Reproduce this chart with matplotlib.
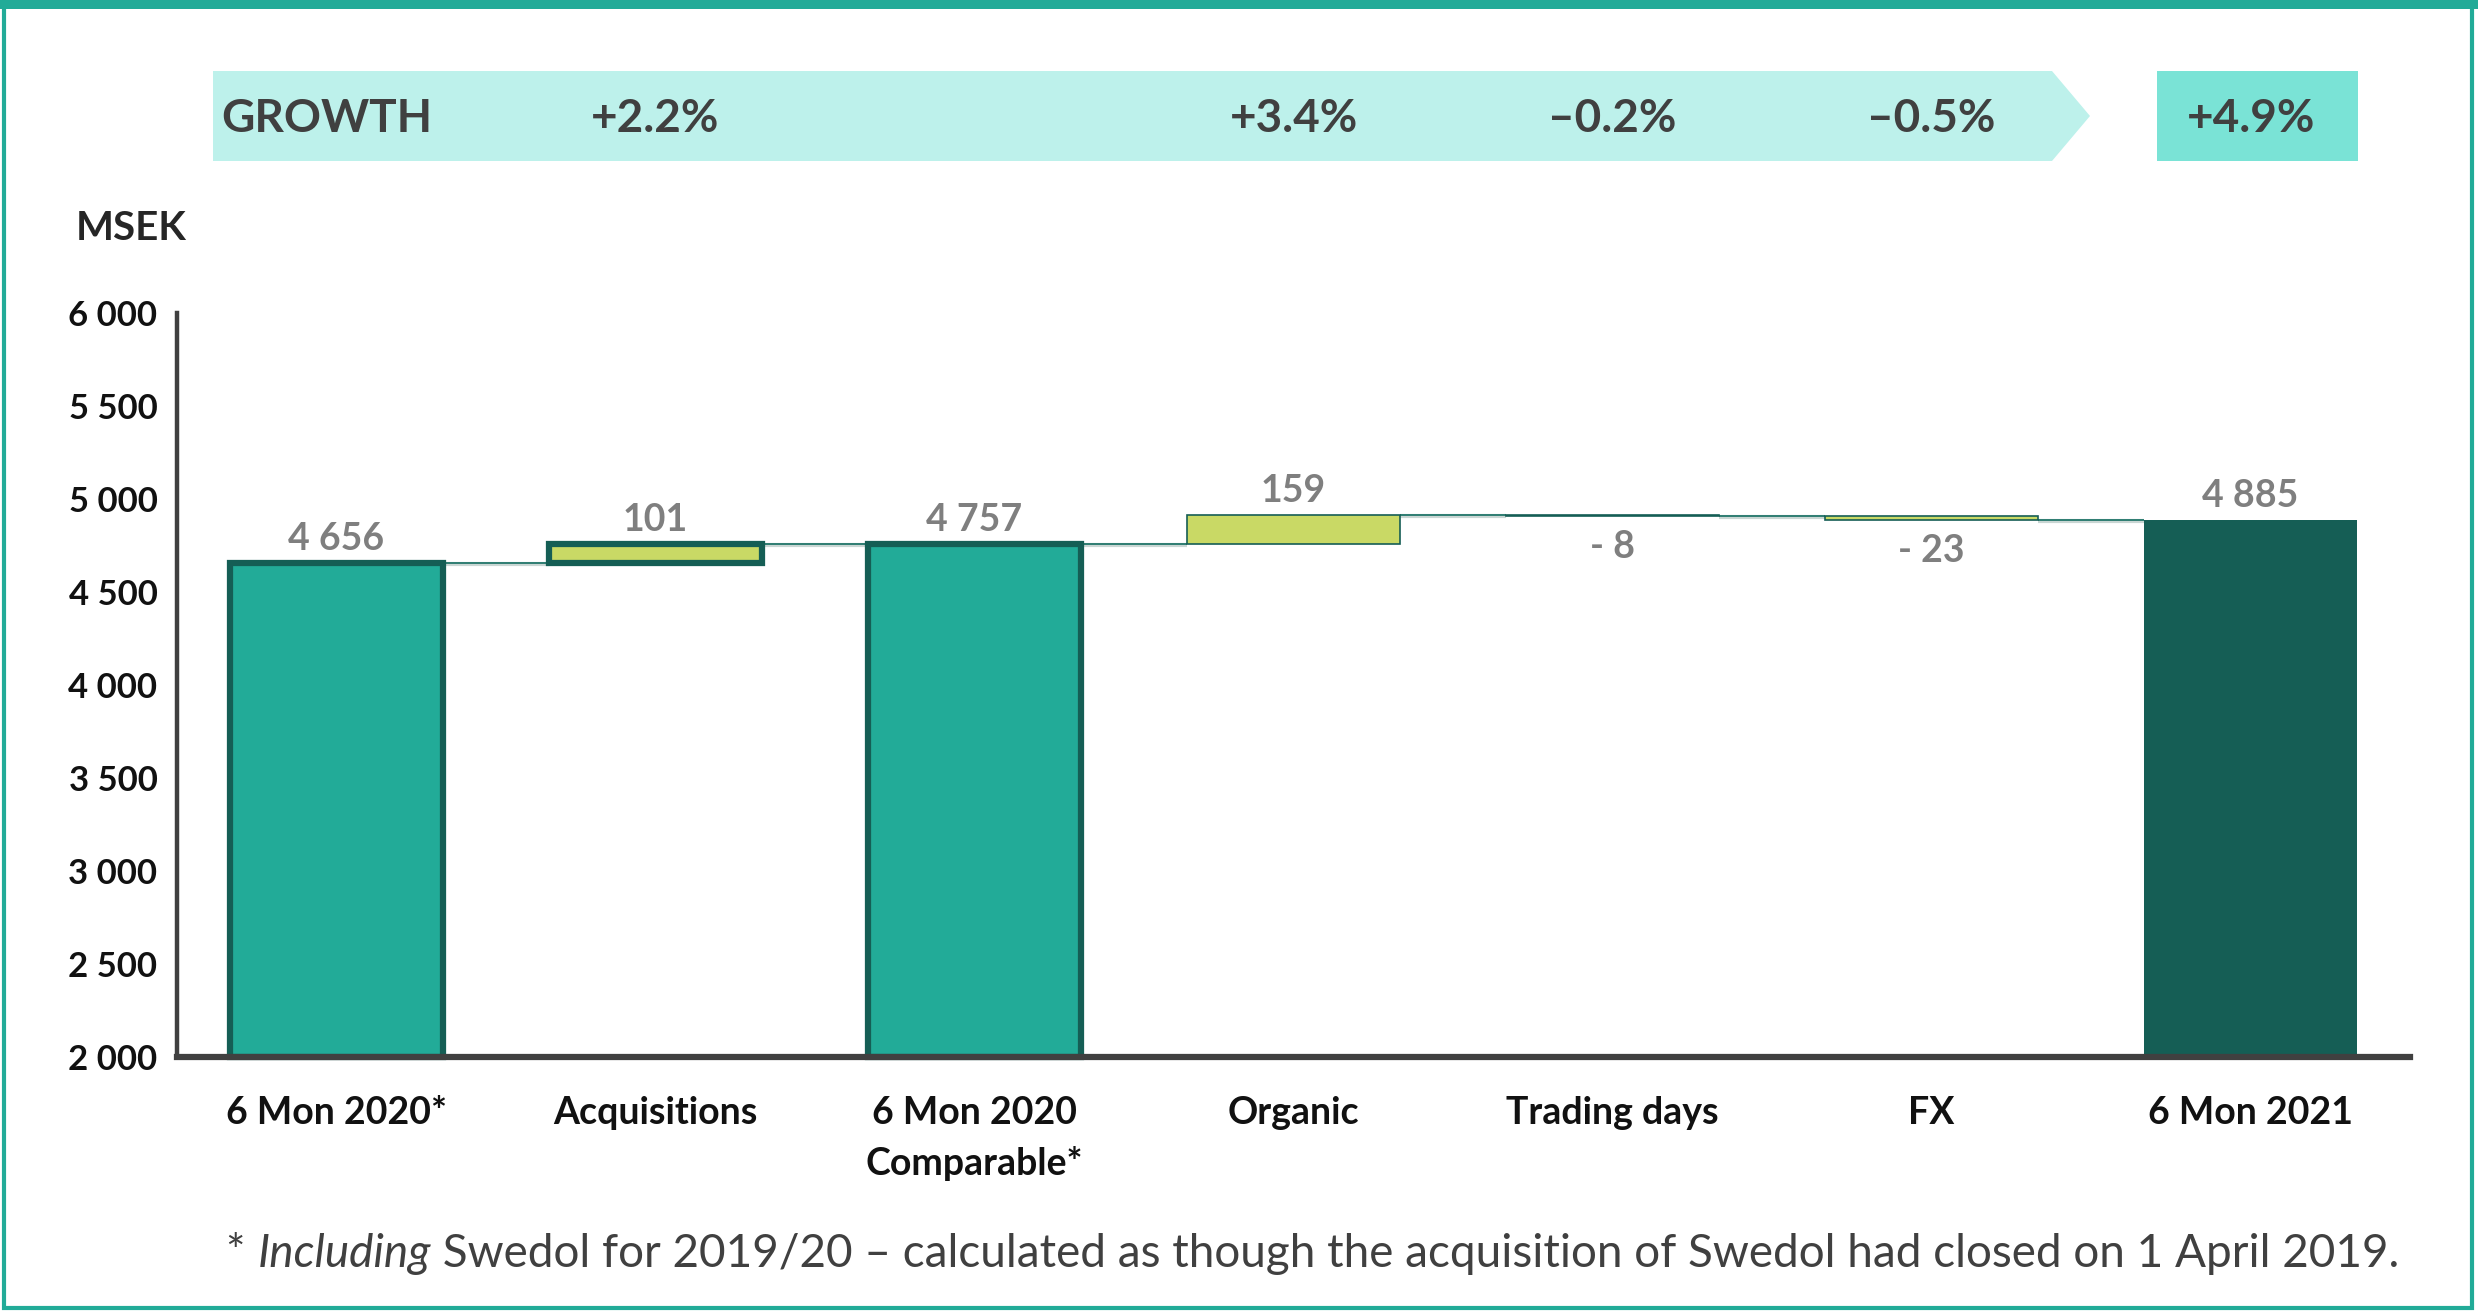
import matplotlib
matplotlib.use("Agg")
import matplotlib.pyplot as plt
from matplotlib.patches import Polygon, Rectangle
from matplotlib.transforms import blended_transform_factory
import matplotlib.ticker as mticker

# ---------------- data ----------------
categories = ["6 Mon 2020*", "Acquisitions", "6 Mon 2020\nComparable*", "Organic",
              "Trading days", "FX", "6 Mon 2021"]
kinds = ["total", "delta", "total", "delta", "delta", "delta", "total"]
values = [4656, 101, 4757, 159, -8, -23, 4885]
value_labels = ["4 656", "101", "4 757", "159", "- 8", "- 23", "4 885"]
growth_labels = ["+2.2%", "+3.4%", "\u20130.2%", "\u20130.5%", "+4.9%"]
growth_positions = [1, 3, 4, 5, 6]   # category index each growth figure sits over
y_ticks = [2000, 2500, 3000, 3500, 4000, 4500, 5000, 5500, 6000]
y_min, y_max = 2000, 6000

# ---------------- style ----------------
FONT = ["Lato", "Open Sans", "DejaVu Sans"]
plt.rcParams["font.family"] = FONT
TEAL = "#22AB98"
DARK = "#155E55"
LIME = "#C9D965"
GRAYTXT = "#7F7F7F"
AXCOL = "#404040"

W, H, DPI = 24.78, 13.11, 100
fig = plt.figure(figsize=(W, H), dpi=DPI)
fig.patch.set_facecolor("white")

ax = fig.add_axes([0.0714, 0.1937, 0.9012, 0.5676])
ax.set_xlim(-0.5, len(categories) - 0.5)
ax.set_ylim(y_min, y_max)

bar_w = 0.67
running = 0
bottoms, tops, levels = [], [], []
for k, v in zip(kinds, values):
    if k == "total":
        running = v
        bottoms.append(y_min)
        tops.append(v)
    else:
        start = running
        running = running + v
        bottoms.append(min(start, running))
        tops.append(max(start, running))
    levels.append(running)

styles = {
    0: dict(fc=TEAL, ec=DARK, lw=4.5),
    1: dict(fc=LIME, ec=DARK, lw=4.5),
    2: dict(fc=TEAL, ec=DARK, lw=4.5),
    3: dict(fc=LIME, ec=DARK, lw=1.2),
    4: dict(fc=DARK, ec=DARK, lw=1.2),
    5: dict(fc=LIME, ec=DARK, lw=1.2),
    6: dict(fc=DARK, ec=DARK, lw=0),
}
for i, (b, t) in enumerate(zip(bottoms, tops)):
    s = styles[i]
    ax.bar(i, t - b, bottom=b, width=bar_w, color=s["fc"], edgecolor=s["ec"],
           linewidth=s["lw"], zorder=3, clip_on=False)

# connectors
for i in range(len(categories) - 1):
    lv = levels[i]
    x0 = i + bar_w / 2
    x1 = i + 1 - bar_w / 2
    ax.plot([x0, x1], [lv - 6, lv - 6], color="#C9D6D3", lw=3.0, zorder=1,
            solid_capstyle="butt")
    ax.plot([x0, x1], [lv, lv], color="#2E7D72", lw=1.4, zorder=2,
            solid_capstyle="butt")

# value labels
for i, (k, v) in enumerate(zip(kinds, values)):
    if v >= 0:
        ax.annotate(value_labels[i], (i, tops[i]), xytext=(0, 5),
                    textcoords="offset points", ha="center", va="bottom",
                    fontsize=27, fontweight="bold", color=GRAYTXT, zorder=5)
    else:
        ax.annotate(value_labels[i], (i, bottoms[i]), xytext=(0, -10),
                    textcoords="offset points", ha="center", va="top",
                    fontsize=27, fontweight="bold", color=GRAYTXT, zorder=5)

# axes styling
for sp in ["top", "right"]:
    ax.spines[sp].set_visible(False)
ax.spines["left"].set_color(AXCOL)
ax.spines["left"].set_linewidth(3.2)
ax.spines["bottom"].set_color(AXCOL)
ax.spines["bottom"].set_linewidth(4.5)
ax.spines["bottom"].set_zorder(6)
ax.spines["left"].set_zorder(6)
ax.set_yticks(y_ticks)
ax.yaxis.set_major_formatter(mticker.FuncFormatter(
    lambda v, p: f"{int(v):,}".replace(",", " ")))
ax.set_xticks(range(len(categories)))
ax.set_xticklabels(categories, linespacing=1.55)
ax.tick_params(axis="both", length=0)
ax.tick_params(axis="x", pad=28, labelsize=27)
ax.tick_params(axis="y", pad=14, labelsize=25)
for lab in ax.get_xticklabels() + ax.get_yticklabels():
    lab.set_fontweight("bold")
    lab.set_color("#111111")
ax.set_facecolor("none")

def fx(px):
    return px / 2478
def fy(py):
    return 1 - py / 1311

# MSEK label
fig.text(fx(76), fy(229), "MSEK", fontsize=29, fontweight="bold",
         color="#262626", ha="left", va="center")

# growth banner
ban_top, ban_bot = 71, 161
poly = Polygon([(fx(213), fy(ban_top)), (fx(2052), fy(ban_top)),
                (fx(2090), fy((ban_top + ban_bot) / 2)),
                (fx(2052), fy(ban_bot)), (fx(213), fy(ban_bot))],
               closed=True, transform=fig.transFigure, facecolor="#BDF1EB",
               edgecolor="none", zorder=0)
fig.patches.append(poly)
fig.patches.append(Rectangle((fx(2157), fy(ban_bot)), fx(2358) - fx(2157),
                             fy(ban_top) - fy(ban_bot), transform=fig.transFigure,
                             facecolor="#7AE3D6", edgecolor="none", zorder=0))
ymid = fy((ban_top + ban_bot) / 2 + 3)
fig.text(fx(221), ymid, "GROWTH", fontsize=33, fontweight="bold", color="#404040",
         ha="left", va="center")
btrans = blended_transform_factory(ax.transData, fig.transFigure)
for lab, pos in zip(growth_labels, growth_positions):
    fig.text(pos, ymid, lab, transform=btrans, fontsize=33, fontweight="bold",
             color="#404040", ha="center", va="center")

# footnote
fy_note = fy(1254)
FN = 33
t1 = fig.text(fx(226), fy_note, "* ", fontsize=FN, color="#404040",
              ha="left", va="center")
t2 = fig.text(0, 0, "Including", fontsize=FN, color="#404040", style="italic")
t3 = fig.text(0, 0, " Swedol for 2019/20 \u2013 calculated as though the acquisition "
              "of Swedol had closed on 1 April 2019.", fontsize=FN, color="#404040")
fig.canvas.draw()
r = fig.canvas.get_renderer()
bb1 = t1.get_window_extent(r)
t2.set_position((bb1.x1 / fig.bbox.width, bb1.y0 / fig.bbox.height))
t2.set_va("bottom")
fig.canvas.draw()
bb2 = t2.get_window_extent(r)
t3.set_position((bb2.x1 / fig.bbox.width, bb1.y0 / fig.bbox.height))
t3.set_va("bottom")

# frame
fig.patches.append(Rectangle((0.0015, 0.002), 0.996, 0.994, transform=fig.transFigure,
                             facecolor="none", edgecolor=TEAL, linewidth=3, zorder=10))
fig.patches.append(Rectangle((0, 0.993), 1, 0.007, transform=fig.transFigure,
                             facecolor=TEAL, edgecolor="none", zorder=10))

fig.savefig("out.png", dpi=DPI, facecolor="white")
